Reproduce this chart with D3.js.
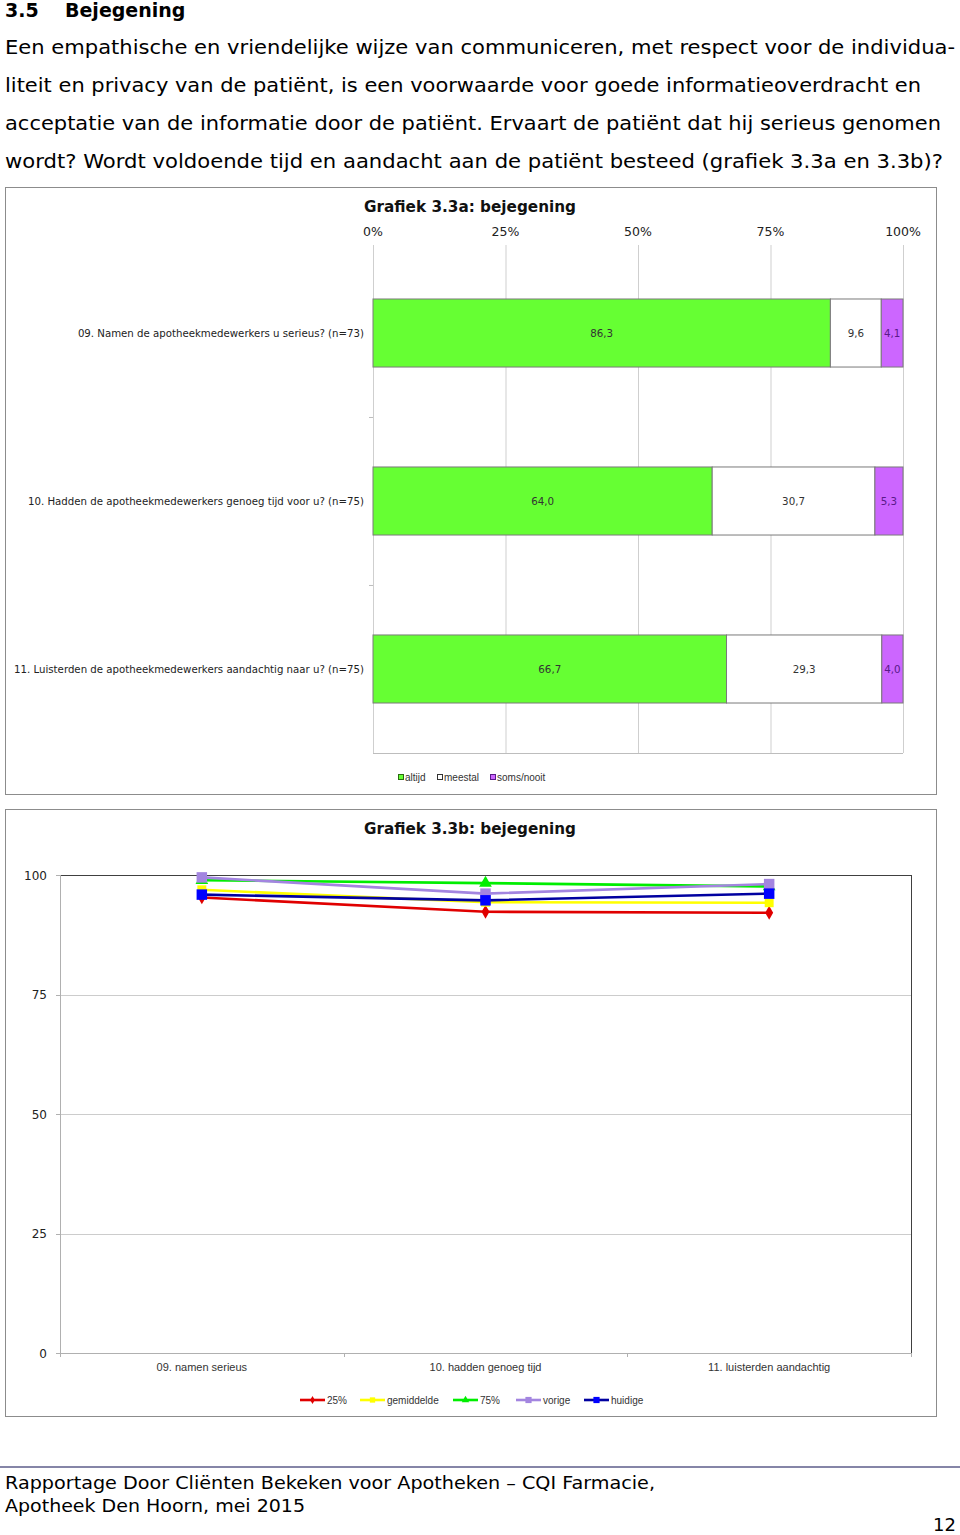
<!DOCTYPE html>
<html><head><meta charset="utf-8">
<script src="https://cdn.jsdelivr.net/npm/d3@7"></script>
<style>body{margin:0;background:#fff}svg{display:block}</style>
</head><body>
<svg id="c" width="960" height="1535"></svg>
<script>
// ---------- DATA ----------
const introLines = [
  "Een empathische en vriendelijke wijze van communiceren, met respect voor de individua-",
  "liteit en privacy van de patiënt, is een voorwaarde voor goede informatieoverdracht en",
  "acceptatie van de informatie door de patiënt. Ervaart de patiënt dat hij serieus genomen",
  "wordt? Wordt voldoende tijd en aandacht aan de patiënt besteed (grafiek 3.3a en 3.3b)?"
];
const introWidths = [950, 916, 936, 938];

const barCategories = [
  "09. Namen de apotheekmedewerkers u serieus? (n=73)",
  "10. Hadden de apotheekmedewerkers genoeg tijd voor u? (n=75)",
  "11. Luisterden de apotheekmedewerkers aandachtig naar u? (n=75)"
];
const barKeys = ["altijd", "meestal", "soms/nooit"];
const altijd = [86.3, 64.0, 66.7];
const meestal = [9.6, 30.7, 29.3];
const somsNooit = [4.1, 5.3, 4.0];
const pctTicks = [0, 25, 50, 75, 100];

const lineCategories = ["09. namen serieus", "10. hadden genoeg tijd", "11. luisterden aandachtig"];
const lineSeriesNames = ["25%", "gemiddelde", "75%", "vorige", "huidige"];
const p25 = [95.3, 92.3, 92.1];
const gemiddelde = [96.9, 94.3, 94.2];
const p75 = [98.9, 98.3, 97.6];
const vorige = [99.5, 96.1, 98.1];
const huidige = [95.9, 94.7, 96.1];
const yTicks = [0, 25, 50, 75, 100];

// ---------- DRAW ----------
const svg = d3.select("#c");
svg.append("rect").attr("width", 960).attr("height", 1535).attr("fill", "#fff");

// Header
svg.append("text").attr("x", 5).attr("y", 17).attr("font-family", "DejaVu Sans, Verdana, sans-serif")
  .attr("font-weight", "bold").attr("font-size", 19).attr("fill", "#000").text("3.5");
svg.append("text").attr("x", 65).attr("y", 17).attr("font-family", "DejaVu Sans, Verdana, sans-serif")
  .attr("font-weight", "bold").attr("font-size", 19).attr("fill", "#000").text("Bejegening");
introLines.forEach((t, i) => {
  svg.append("text").attr("x", 5).attr("y", 54 + i * 38)
    .attr("font-family", "DejaVu Sans, Verdana, sans-serif").attr("font-size", 19.5).attr("fill", "#000")
    .attr("textLength", introWidths[i]).attr("lengthAdjust", "spacingAndGlyphs").text(t);
});

// ---------- Chart A ----------
const gA = svg.append("g");
gA.append("rect").attr("x", 5.5).attr("y", 187.5).attr("width", 931).attr("height", 607)
  .attr("fill", "#fff").attr("stroke", "#8c8c8c").attr("stroke-width", 1);
gA.append("text").attr("x", 364).attr("y", 212).attr("font-family", "DejaVu Sans, Tahoma, sans-serif")
  .attr("font-weight", "bold").attr("font-size", 15).attr("fill", "#111")
  .attr("textLength", 212).attr("lengthAdjust", "spacingAndGlyphs").text("Grafiek 3.3a: bejegening");

const xA = d3.scaleLinear().domain([0, 100]).range([373, 903]);
const yA = d3.scaleBand().domain(barCategories).range([249, 753]).paddingInner(0.595).paddingOuter(0.2976);

// gridlines
gA.append("g").selectAll("line").data(pctTicks).join("line")
  .attr("x1", d => xA(d) + 0.5).attr("x2", d => xA(d) + 0.5).attr("y1", 245).attr("y2", 753)
  .attr("stroke", "#cfcfcf").attr("stroke-width", 1);
// tick labels top
gA.append("g").selectAll("text").data(pctTicks).join("text")
  .attr("x", d => xA(d)).attr("y", 236).attr("text-anchor", "middle")
  .attr("font-family", "DejaVu Sans, Tahoma, sans-serif").attr("font-size", 12.5).attr("fill", "#222")
  .text(d => d + "%");
// bottom line
gA.append("line").attr("x1", 373).attr("x2", 903).attr("y1", 753.5).attr("y2", 753.5).attr("stroke", "#bdbdbd");
// left axis ticks at band boundaries
const stepA = yA.step();
const bounds = d3.range(1, barCategories.length).map(i => 249 + i * stepA);
gA.append("g").selectAll("line").data(bounds).join("line")
  .attr("x1", 369).attr("x2", 373).attr("y1", d => d + 0.5).attr("y2", d => d + 0.5).attr("stroke", "#bdbdbd");

const barRows = barCategories.map((c, i) => ({ cat: c, "altijd": altijd[i], "meestal": meestal[i], "soms/nooit": somsNooit[i] }));
const stack = d3.stack().keys(barKeys)(barRows);
const barFill = { "altijd": "#66ff33", "meestal": "#ffffff", "soms/nooit": "#cc66ff" };
const barText = { "altijd": "#333", "meestal": "#333", "soms/nooit": "#5a1a8a" };
const fmt = v => v.toFixed(1).replace(".", ",");

stack.forEach(layer => {
  const g = gA.append("g");
  g.selectAll("rect").data(layer).join("rect")
    .attr("x", d => xA(d[0])).attr("y", d => yA(d.data.cat))
    .attr("width", d => xA(d[1]) - xA(d[0])).attr("height", yA.bandwidth())
    .attr("fill", barFill[layer.key]).attr("stroke", "#7a7a7a").attr("stroke-width", 1);
  g.selectAll("text").data(layer).join("text")
    .attr("x", d => (xA(d[0]) + xA(d[1])) / 2).attr("y", d => yA(d.data.cat) + yA.bandwidth() / 2 + 4)
    .attr("text-anchor", "middle").attr("font-family", "DejaVu Sans, Verdana, sans-serif")
    .attr("font-size", 10.3).attr("fill", barText[layer.key])
    .text(d => fmt(d[1] - d[0]));
});
// category labels
gA.append("g").selectAll("text").data(barCategories).join("text")
  .attr("x", 364).attr("y", d => yA(d) + yA.bandwidth() / 2 + 4).attr("text-anchor", "end")
  .attr("font-family", "DejaVu Sans, Verdana, sans-serif").attr("font-size", 10.2).attr("fill", "#222")
  .text(d => d);

// legend A
const legA = gA.append("g");
const legAx = [398, 437, 490];
barKeys.forEach((k, i) => {
  legA.append("rect").attr("x", legAx[i] + 0.5).attr("y", 774.5).attr("width", 5).attr("height", 5)
    .attr("fill", barFill[k]).attr("stroke", k === "altijd" ? "#2a6a10" : (k === "meestal" ? "#333" : "#5a1a8a"));
  legA.append("text").attr("x", legAx[i] + 7).attr("y", 781)
    .attr("font-family", "Liberation Sans, Arial, sans-serif").attr("font-size", 10).attr("fill", "#333").text(k);
});

// ---------- Chart B ----------
const gB = svg.append("g");
gB.append("rect").attr("x", 5.5).attr("y", 809.5).attr("width", 931).attr("height", 607)
  .attr("fill", "#fff").attr("stroke", "#8c8c8c").attr("stroke-width", 1);
gB.append("text").attr("x", 470).attr("y", 834).attr("text-anchor", "middle")
  .attr("font-family", "DejaVu Sans, Tahoma, sans-serif").attr("font-weight", "bold").attr("font-size", 15)
  .attr("fill", "#111").attr("textLength", 212).attr("lengthAdjust", "spacingAndGlyphs").text("Grafiek 3.3b: bejegening");

const xB = d3.scaleBand().domain(lineCategories).range([60, 911]);
const yB = d3.scaleLinear().domain([0, 100]).range([1353, 875]);
const cx = c => xB(c) + xB.bandwidth() / 2;

// gridlines
gB.append("g").selectAll("line").data(yTicks.filter(t => t > 0 && t < 100)).join("line")
  .attr("x1", 60).attr("x2", 911).attr("y1", d => Math.round(yB(d)) + 0.5).attr("y2", d => Math.round(yB(d)) + 0.5)
  .attr("stroke", "#cccccc");
gB.append("line").attr("x1", 60).attr("x2", 911).attr("y1", Math.round(yB(100)) + 0.5).attr("y2", Math.round(yB(100)) + 0.5)
  .attr("stroke", "#404040").attr("stroke-width", 1);
gB.append("line").attr("x1", 911.5).attr("x2", 911.5).attr("y1", yB(100)).attr("y2", yB(0))
  .attr("stroke", "#404040").attr("stroke-width", 1);
gB.append("line").attr("x1", 60.5).attr("x2", 60.5).attr("y1", yB(100)).attr("y2", yB(0)).attr("stroke", "#b0b0b0");
gB.append("line").attr("x1", 60).attr("x2", 911).attr("y1", Math.round(yB(0)) + 0.5).attr("y2", Math.round(yB(0)) + 0.5)
  .attr("stroke", "#b0b0b0");
// y tick marks and labels
gB.append("g").selectAll("line").data(yTicks).join("line")
  .attr("x1", 56).attr("x2", 60).attr("y1", d => Math.round(yB(d)) + 0.5).attr("y2", d => Math.round(yB(d)) + 0.5)
  .attr("stroke", "#b0b0b0");
gB.append("g").selectAll("text").data(yTicks).join("text")
  .attr("x", 47).attr("y", d => yB(d) + 4.5).attr("text-anchor", "end")
  .attr("font-family", "DejaVu Sans, Tahoma, sans-serif").attr("font-size", 12).attr("fill", "#222").text(d => d);
// x ticks at band boundaries
const xb = [60, ...lineCategories.map(c => xB(c) + xB.bandwidth())];
gB.append("g").selectAll("line").data(xb).join("line")
  .attr("x1", d => Math.round(d) + 0.5).attr("x2", d => Math.round(d) + 0.5).attr("y1", yB(0)).attr("y2", yB(0) + 4)
  .attr("stroke", "#b0b0b0");
gB.append("g").selectAll("text").data(lineCategories).join("text")
  .attr("x", d => cx(d)).attr("y", 1371).attr("text-anchor", "middle")
  .attr("font-family", "Liberation Sans, Arial, sans-serif").attr("font-size", 11).attr("fill", "#333").text(d => d);

const seriesVals = [p25, gemiddelde, p75, vorige, huidige];
const lineColor = ["#e00000", "#ffff00", "#00ee00", "#a385e0", "#0000a0"];
const markColor = ["#e00000", "#ffff00", "#00ee00", "#a385e0", "#0000ff"];
const markType = [d3.symbolDiamond, d3.symbolSquare, d3.symbolTriangle, d3.symbolSquare, d3.symbolSquare];
const markSize = [55, 80, 70, 110, 110];

const lineGen = d3.line().x((d, i) => cx(lineCategories[i])).y(d => yB(d));
seriesVals.forEach((vals, s) => {
  gB.append("path").attr("d", lineGen(vals)).attr("fill", "none")
    .attr("stroke", lineColor[s]).attr("stroke-width", 2.6);
  gB.append("g").selectAll("path").data(vals).join("path")
    .attr("transform", (d, i) => `translate(${cx(lineCategories[i])},${yB(d)})`)
    .attr("d", d3.symbol().type(markType[s]).size(markSize[s])).attr("fill", markColor[s]);
});

// legend B
const legBx = [300, 360, 453, 516, 584];
lineSeriesNames.forEach((n, s) => {
  const x0 = legBx[s];
  gB.append("line").attr("x1", x0).attr("x2", x0 + 25).attr("y1", 1400).attr("y2", 1400)
    .attr("stroke", lineColor[s]).attr("stroke-width", 2.6);
  gB.append("path").attr("transform", `translate(${x0 + 12.5},1400)`)
    .attr("d", d3.symbol().type(markType[s]).size(markSize[s] * 0.35)).attr("fill", markColor[s]);
  gB.append("text").attr("x", x0 + 27).attr("y", 1403.5)
    .attr("font-family", "Liberation Sans, Arial, sans-serif").attr("font-size", 10).attr("fill", "#333").text(n);
});

// ---------- Footer ----------
svg.append("line").attr("x1", 0).attr("x2", 960).attr("y1", 1467).attr("y2", 1467)
  .attr("stroke", "#5c5c8a").attr("stroke-width", 1.5);
svg.append("text").attr("x", 5).attr("y", 1489).attr("font-family", "DejaVu Sans, Tahoma, sans-serif")
  .attr("font-size", 18.5).attr("fill", "#000").attr("textLength", 650).attr("lengthAdjust", "spacingAndGlyphs")
  .text("Rapportage Door Cliënten Bekeken voor Apotheken – CQI Farmacie,");
svg.append("text").attr("x", 5).attr("y", 1512).attr("font-family", "DejaVu Sans, Tahoma, sans-serif")
  .attr("font-size", 18.5).attr("fill", "#000").attr("textLength", 300).attr("lengthAdjust", "spacingAndGlyphs")
  .text("Apotheek Den Hoorn, mei 2015");
svg.append("text").attr("x", 956).attr("y", 1531).attr("text-anchor", "end").attr("font-family", "DejaVu Sans, Tahoma, sans-serif")
  .attr("font-size", 18).attr("fill", "#000").text("12");
</script>
</body></html>
